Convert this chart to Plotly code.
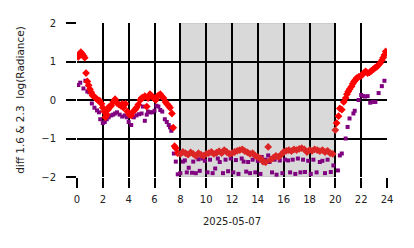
import plotly.graph_objects as go

# ---- data: hour of day (UTC) and log-radiance differences ----
red_t = [0.1, 0.2, 0.3, 0.4, 0.5, 0.6, 0.7, 0.8, 0.9, 1.0, 1.1, 1.2, 1.3, 1.45, 1.6, 1.75, 1.9, 2.0,
         2.1, 2.2, 2.3, 2.4, 2.5, 2.65, 2.8, 2.95, 3.1, 3.25, 3.4, 3.5, 3.6, 3.75, 3.9, 4.05, 4.2,
         4.35, 4.5, 4.6, 4.75, 4.9, 5.0, 5.1, 5.25, 5.4, 5.5, 5.65, 5.8, 5.95, 6.1, 6.2, 6.3, 6.45,
         6.55, 6.7, 6.85, 6.95, 7.1, 7.2, 7.35, 7.45, 7.55, 7.65,
         7.8, 8.0, 8.2, 8.4, 8.6, 8.8, 9.0, 9.2, 9.4, 9.6, 9.8, 10.0, 10.2, 10.4, 10.6, 10.8, 11.0,
         11.2, 11.4, 11.6, 11.8, 12.0, 12.2, 12.4, 12.6, 12.8, 13.0, 13.2, 13.4, 13.6, 13.8, 14.0,
         14.2, 14.4, 14.6, 14.8, 15.0, 15.2, 15.4, 15.6, 15.8, 16.0, 16.2, 16.4, 16.6, 16.8, 17.0,
         17.2, 17.4, 17.6, 17.8, 18.0, 18.2, 18.4, 18.6, 18.8, 19.0, 19.2, 19.4, 19.6, 19.8,
         20.0, 20.1, 20.25, 20.35, 20.5, 20.65, 20.8, 20.9, 21.0, 21.1, 21.25, 21.35, 21.45, 21.55,
         21.65, 21.8, 21.95, 22.1, 22.25, 22.35, 22.5, 22.65, 22.8, 22.95, 23.05, 23.2, 23.3, 23.45,
         23.6, 23.7, 23.8, 23.9]
red_v = [1.12, 1.2, 1.24, 1.2, 1.15, 1.1, 0.7, 0.48, 0.38, 0.28, 0.2, 0.12, 0.1, 0.05, 0.0, -0.02, -0.1, -0.2,
         -0.3, -0.45, -0.38, -0.25, -0.17, -0.15, -0.05, 0.02, -0.08, -0.12, -0.15, -0.1, -0.2, -0.1, -0.3, -0.38, -0.4,
         -0.3, -0.25, -0.2, -0.12, 0.0, 0.05, 0.06, 0.1, -0.17, 0.05, 0.15, 0.1, 0.05, 0.0, 0.08, 0.12, 0.15,
         0.1, 0.05, -0.05, -0.1, -0.15, -0.2, -0.35, -0.72, -1.2, -1.25,
         -1.38, -1.4, -1.35, -1.38, -1.42, -1.36, -1.4, -1.45, -1.38, -1.42, -1.45, -1.4, -1.38, -1.35, -1.4, -1.37, -1.33,
         -1.38, -1.3, -1.35, -1.4, -1.38, -1.35, -1.32, -1.3, -1.28, -1.33, -1.36, -1.4, -1.38, -1.45, -1.48,
         -1.52, -1.6, -1.62, -1.22, -1.55, -1.5, -1.45, -1.48, -1.42, -1.35, -1.32, -1.3, -1.33, -1.28, -1.3,
         -1.27, -1.25, -1.28, -1.35, -1.3, -1.32, -1.28, -1.3, -1.33, -1.3, -1.35, -1.32, -1.38, -1.4,
         -0.78, -0.6, -0.42, -0.22, -0.25, -0.05, 0.05, 0.15, 0.22, 0.28, 0.35, 0.42, 0.48, 0.52,
         0.57, 0.6, 0.62, 0.66, 0.72, 0.74, 0.7, 0.72, 0.76, 0.8, 0.83, 0.86, 0.9, 0.95,
         1.03, 1.1, 1.17, 1.26]

purple_t = [0.1, 0.25, 0.5, 0.65, 0.8, 0.95, 1.15, 1.35, 1.55, 1.7, 1.8, 2.0, 2.15, 2.3, 2.45, 2.65, 2.8,
            2.95, 3.1, 3.3, 3.5, 3.7, 3.85, 4.0, 4.2, 4.4, 4.6, 4.8, 5.0, 5.1, 5.25, 5.4, 5.5, 5.65,
            5.8, 6.0, 6.15, 6.3, 6.45, 6.6, 6.8, 6.95, 7.1, 7.2, 7.3, 7.5, 7.65, 7.8,
            8.0, 8.2, 8.35, 8.5, 8.65, 8.9, 9.0, 9.2, 9.4, 9.5, 9.7, 9.9, 10.1, 10.3, 10.5, 10.7, 10.9,
            11.05, 11.3, 11.5, 11.7, 11.9, 12.1, 12.3, 12.5, 12.75, 12.9, 13.1, 13.25, 13.4, 13.6, 13.8,
            14.0, 14.2, 14.3, 14.45, 14.6, 14.8, 14.9, 15.1, 15.3, 15.45, 15.7, 15.9, 16.1, 16.35, 16.5,
            16.7, 16.9, 17.1, 17.3, 17.5, 17.65, 17.9, 18.1, 18.3, 18.55, 18.8, 19.0, 19.2, 19.4, 19.65,
            19.85, 20.2, 20.35, 20.5, 20.8, 20.95, 21.1, 21.4, 21.5, 21.8, 22.0, 22.15, 22.3, 22.5, 22.7,
            22.9, 23.1, 23.35, 23.6, 23.8]
purple_v = [0.39, 0.45, 0.3, 0.5, 0.22, 0.2, -0.09, -0.2, -0.27, -0.32, -0.5, -0.6, -0.57, -0.5, -0.45, -0.4, -0.38,
            -0.35, -0.32, -0.38, -0.43, -0.4, -0.45, -0.57, -0.65, -0.45, -0.4, -0.37, -0.35, -0.17, -0.54, -0.38, -0.3, -0.32,
            -0.32, -0.28, -0.15, -0.17, -0.26, -0.3, -0.5, -0.57, -0.65, -0.71, -0.8, -1.39, -1.6, -1.93,
            -1.9, -1.6, -1.57, -1.88, -1.76, -1.89, -1.6, -1.9, -1.54, -1.84, -1.52, -1.58, -1.88, -1.55, -1.9, -1.78, -1.52,
            -1.61, -1.9, -1.55, -1.85, -1.52, -1.88, -1.56, -1.92, -1.52, -1.6, -1.86, -1.61, -1.9, -1.55, -1.88,
            -1.58, -1.92, -1.48, -1.62, -1.55, -1.44, -1.61, -1.88, -1.55, -1.94, -1.57, -1.9, -1.55, -1.57, -1.88,
            -1.55, -1.92, -1.52, -1.88, -1.55, -1.87, -1.58, -1.92, -1.55, -1.88, -1.61, -1.58, -1.9, -1.55, -1.87,
            -1.7, -1.83, -1.44, -1.39, -1.0, -0.7, -0.48, -0.35, -0.28, 0.0, 0.13, 0.1, 0.09, 0.1, -0.07,
            -0.05, -0.05, 0.18, 0.36, 0.5]

night_start, night_end = 8, 20
x_ticks = list(range(0, 25, 2))
y_ticks = [-2, -1, 0, 1, 2]
x_title = "2025-05-07"
y_title = "diff 1.6 & 2.3  log(Radiance)"

FONT = "DejaVu Sans"

red_colors = ["#dc2626" if night_start <= t <= night_end else "#ff0000" for t in red_t]

fig = go.Figure()
fig.add_shape(type="rect", xref="x", yref="y", x0=night_start, x1=night_end, y0=-2, y1=2,
              fillcolor="#d9d9d9", line=dict(color="#bdbdbd", width=1), layer="below")
fig.add_trace(go.Scatter(x=purple_t, y=purple_v, mode="markers",
                         marker=dict(symbol="square", size=4, color="#800080", line=dict(width=0)),
                         showlegend=False))
fig.add_trace(go.Scatter(x=red_t, y=red_v, mode="markers",
                         marker=dict(symbol="diamond", size=6, color=red_colors, line=dict(width=0)),
                         showlegend=False))

fig.update_layout(
    width=414, height=248,
    margin=dict(l=77, r=27, t=23, b=71),
    paper_bgcolor="white", plot_bgcolor="white",
    font=dict(family=FONT, size=10, color="#222222"),
)
fig.update_xaxes(range=[0, 24], tickvals=x_ticks, ticktext=[str(v) for v in x_ticks],
                 showgrid=True, gridcolor="black", gridwidth=2, zeroline=False,
                 ticks="outside", ticklen=10, tickwidth=2, tickcolor="black",
                 showline=False, tickfont=dict(size=10), ticklabelstandoff=3,
                 title=dict(text=x_title, font=dict(size=10), standoff=13))
fig.update_yaxes(range=[-2, 2], tickvals=y_ticks,
                 ticktext=["\u22122", "\u22121", "0", "1", "2"],
                 showgrid=True, gridcolor="black", gridwidth=2, zeroline=False,
                 ticks="outside", ticklen=10, tickwidth=2, tickcolor="black",
                 showline=False, tickfont=dict(size=10), ticklabelstandoff=8,
                 title=dict(text=y_title, font=dict(size=10.5), standoff=14))

fig.write_html("out.html")
